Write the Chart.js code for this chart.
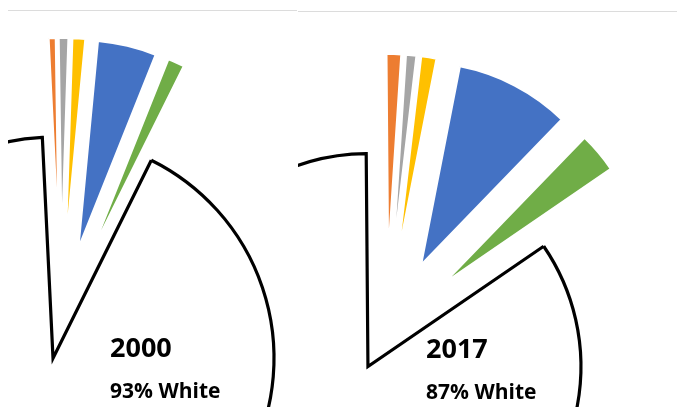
<!DOCTYPE html>
<html>
<head>
<meta charset="utf-8">
<script src="https://cdn.jsdelivr.net/npm/chart.js@4.4.0/dist/chart.umd.min.js"></script>
<style>
  body { margin: 0; width: 677px; height: 407px; overflow: hidden; background: #fff; position: relative; font-family: 'Open Sans', sans-serif; }
  .panel { position: absolute; top: 0; height: 407px; overflow: hidden; }
  .panel canvas { position: absolute; }
  .rule { position: absolute; height: 1px; background: #dcdcdc; }
  .year { position: absolute; font-weight: 700; font-size: 27px; line-height: 27px; color: #000; }
  .share { position: absolute; font-weight: 700; font-size: 21px; line-height: 21px; color: #000; }
</style>
</head>
<body>
<div class="rule" style="left:8px; width:289px; top:10px"></div>
<div class="rule" style="left:298px; width:379px; top:11px"></div>

<div class="panel" style="left:8px; width:289px">
  <canvas id="pie2000" width="620" height="620" style="left:-257px; top:10px"></canvas>
</div>
<div class="panel" style="left:298px; width:379px">
  <canvas id="pie2017" width="620" height="620" style="left:-222px; top:22px"></canvas>
</div>

<div class="year" id="year2000" style="left:110px; top:333px"></div>
<div class="share" id="share2000" style="left:110px; top:380px"></div>
<div class="year" id="year2017" style="left:426px; top:334px"></div>
<div class="share" id="share2017" style="left:426px; top:381px"></div>

<script>
// Population share by group (percent), white first
const groups = ['White', 'Other', 'Two or more races', 'Asian', 'Hispanic', 'Black'];
const years = ['2000', '2017'];
const values2000 = [93, 0.55, 0.75, 1.0, 4.6, 1.3];
const values2017 = [87, 1.2, 0.85, 1.25, 9.45, 3.3];

const colors = ['#ffffff', '#ed7d31', '#a5a5a5', '#ffc000', '#4472c4', '#70ad47'];

// Pulls each slice out from the centre by its own distance and gives it its own radius
function explode(shift, radius) {
  return {
    id: 'explode',
    afterDatasetsUpdate(chart) {
      chart.getDatasetMeta(0).data.forEach((arc, i) => {
        const mid = (arc.startAngle + arc.endAngle) / 2;
        arc.x += Math.cos(mid) * shift[i];
        arc.y += Math.sin(mid) * shift[i];
        arc.outerRadius = radius[i];
      });
    }
  };
}

function drawPie(id, values, rotation, shift, radius) {
  new Chart(document.getElementById(id), {
    type: 'pie',
    data: {
      labels: groups,
      datasets: [{
        data: values,
        backgroundColor: colors,
        borderColor: ['#000', '#fff', '#fff', '#fff', '#fff', '#fff'],
        borderWidth: [3.2, 2, 2, 2, 2, 2],
        borderJoinStyle: ['miter', 'bevel', 'bevel', 'bevel', 'bevel', 'bevel']
      }]
    },
    options: {
      responsive: false,
      animation: false,
      events: [],
      rotation: rotation,
      radius: radius[0],
      layout: { padding: 0 },
      plugins: {
        legend: { display: false },
        tooltip: { enabled: false }
      }
    },
    plugins: [explode(shift, radius)]
  });
}

drawPie('pie2000', values2000, 26.4, [39, 74, 74, 74, 74, 74], [221, 208, 208, 208, 208, 208]);
drawPie('pie2017', values2017, 55.6, [39, 76, 76, 76, 76, 76], [213, 202, 202, 202, 202, 202]);

document.getElementById('year2000').textContent = years[0];
document.getElementById('share2000').textContent = values2000[0] + '% ' + groups[0];
document.getElementById('year2017').textContent = years[1];
document.getElementById('share2017').textContent = values2017[0] + '% ' + groups[0];
</script>
</body>
</html>
